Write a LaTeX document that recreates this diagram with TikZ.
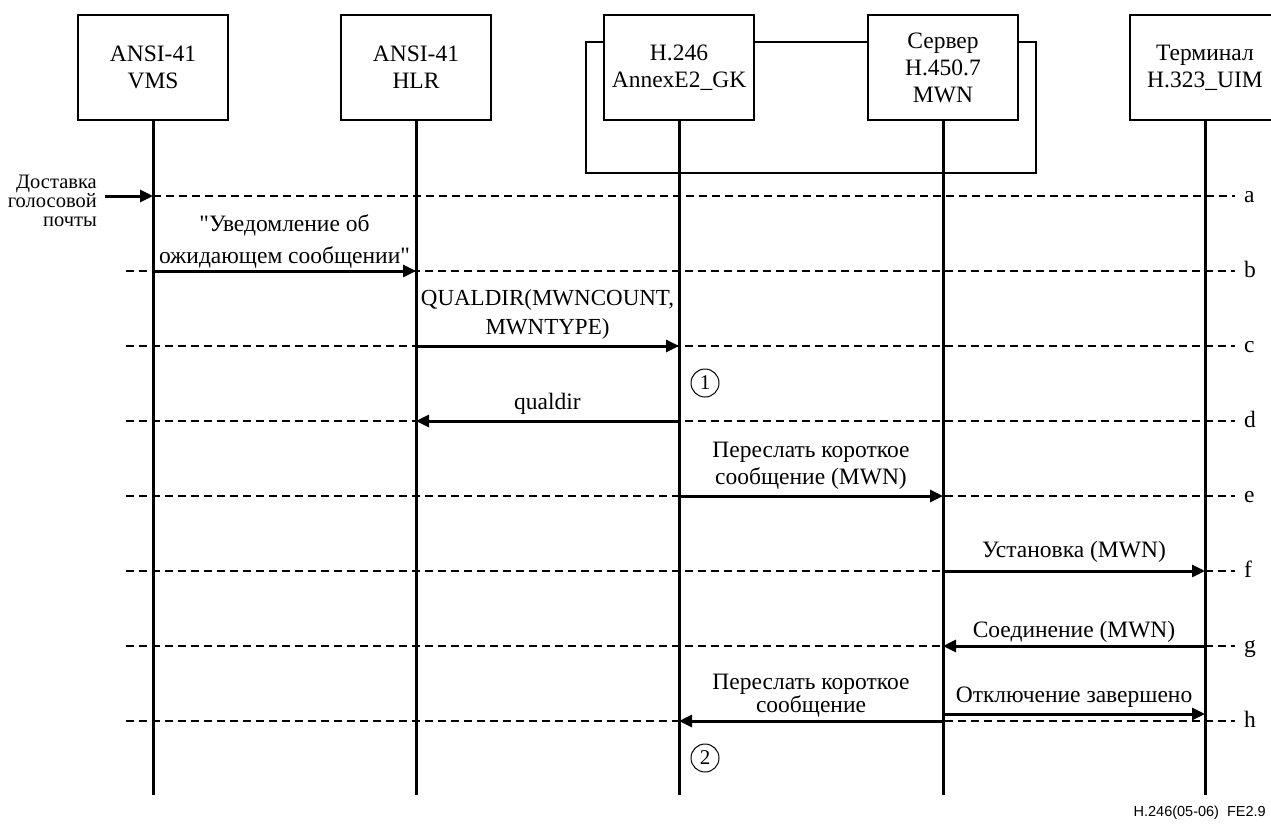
\documentclass[tikz,border=0pt]{standalone}
\usepackage{fontspec}
\setmainfont{Liberation Serif}[Ligatures=TeXOff]
\newfontfamily\footsans{Liberation Sans}
\usetikzlibrary{arrows.meta}
\tikzset{
  ent/.style={draw, line width=1.2pt, fill=white, minimum width=150pt, minimum height=105pt,
    inner sep=0pt, align=center, font=\fontsize{23.5}{27}\selectfont},
  life/.style={line width=3pt},
  msg/.style={line width=3pt, -{Triangle[length=13pt,width=12pt]}},
  rowline/.style={line width=1.2pt, dash pattern=on 8pt off 5pt},
  lbl/.style={inner sep=0pt, text depth=0pt, anchor=south, align=center},
  rowlbl/.style={inner sep=0pt, anchor=base west, font=\fontsize{23.5}{26}\selectfont},
  num/.style={draw, circle, line width=1pt, minimum size=28pt, inner sep=0pt, font=\fontsize{21}{22}\selectfont},
}
\begin{document}
\begin{tikzpicture}[x=1pt,y=-1pt]
\useasboundingbox (0,0) rectangle (1271,823);
% enclosing frame of GK and MWN
\draw[line width=1.2pt] (586,42) rectangle (1036,173);
% entities
\node[ent] (vms) at (153,67.5) {ANSI-41\\VMS};
\node[ent] (hlr) at (416,67.5) {ANSI-41\\HLR};
\node[ent] (gk) at (679,67.5) {H.246\\AnnexE2\_GK};
\node[ent] (mwn) at (943,67.5) {Сервер\\H.450.7\\MWN};
\node[ent] (term) at (1205,67.5) {Терминал\\H.323\_UIM};
% row coordinates
\coordinate (La) at (153,196); \coordinate (Ra) at (1235,196);
\coordinate (Lb) at (126,271); \coordinate (Rb) at (1235,271);
\coordinate (Lc) at (126,346); \coordinate (Rc) at (1235,346);
\coordinate (Ld) at (126,421); \coordinate (Rd) at (1235,421);
\coordinate (Le) at (126,496); \coordinate (Re) at (1235,496);
\coordinate (Lf) at (126,571); \coordinate (Rf) at (1235,571);
\coordinate (Lg) at (126,646); \coordinate (Rg) at (1235,646);
\coordinate (Lh) at (126,721); \coordinate (Rh) at (1235,721);
\coordinate (Hup) at (0,714);
\foreach \r in {a,b,c,d,e,f,g,h}{
  \draw[rowline] (L\r) -- (R\r);
  \node[rowlbl] (lab\r) at ([shift={(9pt,-6pt)}]R\r) {\r};
}
% lifeline ends
\coordinate (vmsend) at (153,795);
\coordinate (hlrend) at (416,795);
\coordinate (gkend) at (679,795);
\coordinate (mwnend) at (943,795);
\coordinate (termend) at (1205,795);
\draw[life] (vms.south) -- (vmsend);
\draw[life] (hlr.south) -- (hlrend);
\draw[life] (gk.south) -- (gkend);
\draw[life] (mwn.south) -- (mwnend);
\draw[life] (term.south) -- (termend);
% incoming voice mail
\node[inner sep=0pt, text depth=0pt, anchor=south east, align=right,
  font=\fontsize{20.5}{19}\selectfont] (dlv) at (97,227) {Доставка\\голосовой\\почты};
\coordinate (src) at (105,196);
\draw[msg] (src) -- (vms.south |- La);
% messages
\draw[msg] (vms.south |- Lb) -- (hlr.south |- Lb);
\node[lbl, font=\fontsize{23.5}{32}\selectfont] (tb) at (284.5,264) {"Уведомление об\\ожидающем сообщении"};
\draw[msg] (hlr.south |- Lc) -- (gk.south |- Lc);
\node[lbl, font=\fontsize{23}{29}\selectfont] (tc) at (547.5,335) {QUALDIR(MWNCOUNT,\\MWNTYPE)};
\draw[msg] (gk.south |- Ld) -- (hlr.south |- Ld);
\node[lbl, font=\fontsize{23.5}{27}\selectfont] (td) at (547.5,410) {qualdir};
\draw[msg] (gk.south |- Le) -- (mwn.south |- Le);
\node[lbl, font=\fontsize{23.5}{27}\selectfont] (te) at (811,485) {Переслать короткое\\сообщение (MWN)};
\draw[msg] (mwn.south |- Lf) -- (term.south |- Lf);
\node[lbl, font=\fontsize{23.5}{27}\selectfont] (tf) at (1074,558) {Установка (MWN)};
\draw[msg] (term.south |- Lg) -- (mwn.south |- Lg);
\node[lbl, font=\fontsize{23.5}{27}\selectfont] (tg) at (1074,638) {Соединение (MWN)};
\draw[msg] (mwn.south |- Lh) -- (gk.south |- Lh);
\node[lbl, font=\fontsize{23.5}{20}\selectfont] (th) at (811,713) {Переслать короткое\\сообщение};
\draw[msg] (mwn.south |- Hup) -- (term.south |- Hup);
\node[lbl, font=\fontsize{23.5}{27}\selectfont] (th2) at (1074,703) {Отключение завершено};
% numbered markers
\node[num] (n1) at (705,383) {1};
\node[num] (n2) at (705,758) {2};
% figure id
\node[inner sep=0pt, anchor=base east, font=\footsans\fontsize{14.5}{16}\selectfont] (fid) at (1266,816) {H.246(05-06)\ \ FE2.9};
\end{tikzpicture}
\end{document}
